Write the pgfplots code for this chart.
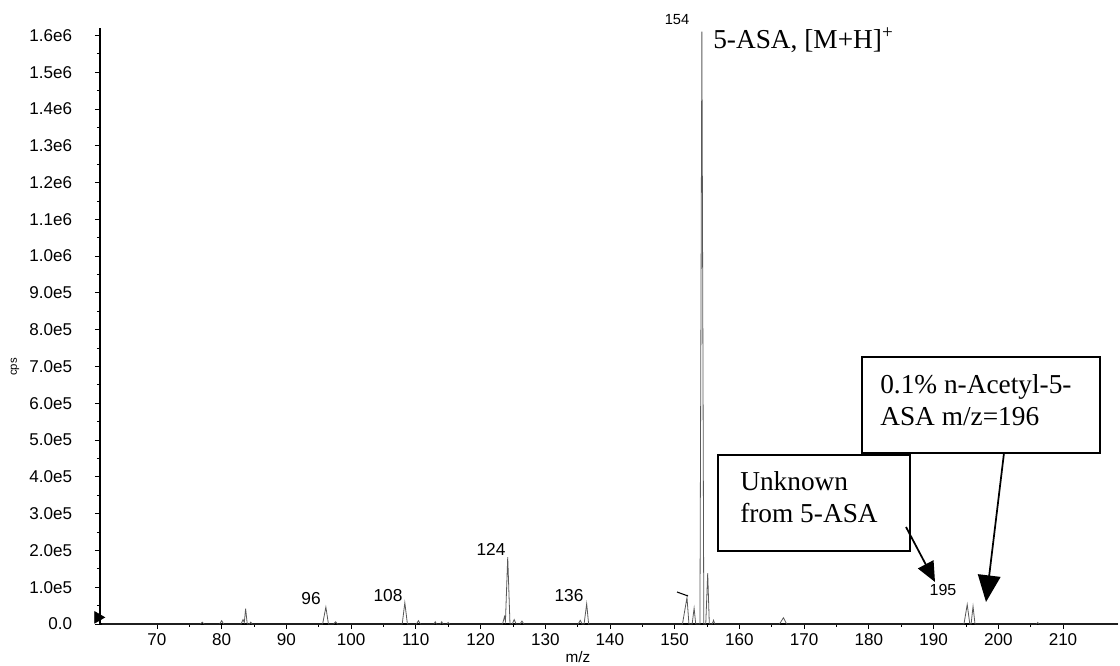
\documentclass[border=0pt]{standalone}
\usepackage{pgfplots}
\pgfplotsset{compat=1.18}
\usepackage{fontspec}
\setmainfont{Liberation Serif}
\newfontfamily\arial{Liberation Sans}
\usetikzlibrary{arrows.meta}

\begin{document}
\begin{tikzpicture}
\useasboundingbox (0,0) rectangle (840pt,499.5pt);
\begin{axis}[
  at={(75pt,31.5pt)}, anchor=south west,
  scale only axis, width=763.5pt, height=447pt,
  xmin=61.2, xmax=218.5, ymin=0, ymax=1620000,
  axis lines=left,
  axis line style={-, line width=0.9pt, black},
  clip=false,
  xtick={70,80,90,100,110,120,130,140,150,160,170,180,190,200,210},
  minor x tick num=1,
  ytick={0,100000,200000,300000,400000,500000,600000,700000,800000,900000,1000000,1100000,1200000,1300000,1400000,1500000,1600000},
  yticklabels={0.0,1.0e5,2.0e5,3.0e5,4.0e5,5.0e5,6.0e5,7.0e5,8.0e5,9.0e5,1.0e6,1.1e6,1.2e6,1.3e6,1.4e6,1.5e6,1.6e6},
  minor y tick num=1,
  scaled y ticks=false,
  tick align=outside,
  major tick length=3.75pt, minor tick length=2.25pt,
  tick style={black, line width=0.6pt},
  ticklabel style={font=\arial\fontsize{12.8}{13}\selectfont},
  /pgf/number format/assume math mode=true,
  yticklabel style={anchor=east, inner sep=0pt, xshift=-17pt},
  xticklabel style={anchor=north, inner sep=0pt, yshift=-3pt},
  xlabel={m/z},
  xlabel style={font=\arial\fontsize{11.5}{12}\selectfont, at={(axis description cs:0.4696,-0.0554)}, anchor=center},
  ylabel={cps},
  ylabel style={font=\arial\fontsize{8.5}{9}\selectfont, at={(axis description cs:-0.0835,0.431)}, anchor=center},
]
\addplot[gray!70!black, line width=0.6pt] coordinates {
(61.5,0)
(76.7,0) (77.0,5000) (77.3,0)
(79.7,0) (80.0,9000) (80.3,0)
(83.0,0) (83.3,12000) (83.5,4000) (83.7,42000) (83.95,0)
(84.3,0) (84.5,5000) (84.7,0)
(95.6,0) (96.1,46000) (96.5,0)
(97.3,0) (97.6,6000) (97.9,0)
(107.9,0) (108.3,58000) (108.7,0)
(110.1,0) (110.4,9000) (110.7,0)
(112.8,0) (113.0,6000) (113.2,0)
(113.8,0) (114.0,6000) (114.2,0)
(114.8,0) (115.0,4000) (115.2,0)
(123.4,0) (123.7,20000) (123.85,8000) (124.2,182000) (124.55,0)
(124.9,0) (125.2,12000) (125.5,0)
(126.1,0) (126.4,8000) (126.7,0)
(135.1,0) (135.4,10000) (135.7,0)
(136.0,0) (136.4,55000) (136.7,0)
(151.2,0) (151.9,72000) (152.2,0)
(152.7,0) (153.0,43000) (153.25,0)
(153.9,0) (154.2,1610000) (154.5,0)
(154.8,0) (155.1,138000) (155.35,0)
(155.8,0) (156.0,10000) (156.2,0)
(166.2,0) (166.8,17000) (167.3,0)
(194.7,0) (195.2,53000) (195.6,0) (195.8,0) (196.1,48000) (196.4,0)
(205.9,0) (206.1,4000) (206.3,0)
(218.5,0)
};
\addplot[only marks, mark=triangle*, mark size=5pt, mark options={rotate=-90, fill=black, draw=black}] coordinates {(60.9,18000)};
\end{axis}

\begin{scope}[x=0.75pt, y=-0.75pt, shift={(0,499.5pt)}]
  % peak labels
  \node[font=\arial\fontsize{11}{11}\selectfont] at (677,20) {154};
  \node[font=\arial\fontsize{13}{13}\selectfont] at (311,599) {96};
  \node[font=\arial\fontsize{13}{13}\selectfont] at (388,596) {108};
  \node[font=\arial\fontsize{13}{13}\selectfont] at (491,549) {124};
  \node[font=\arial\fontsize{13}{13}\selectfont] at (569,596) {136};
  \node[font=\arial\fontsize{12}{12}\selectfont] at (943,590) {195};
  \draw[line width=0.8pt] (677,592) -- (688,596);
  % main annotation
  \node[anchor=base west, inner sep=0pt, font=\fontsize{20.5}{22}\selectfont] at (713,49) {5-ASA, [M+H]\textsuperscript{+}};
  % box 1
  \draw[line width=1.5pt, fill=white] (862,357) rectangle (1100,453);
  \node[anchor=base west, inner sep=0pt, font=\fontsize{20.5}{22}\selectfont] at (880,394) {0.1\% n-Acetyl-5-};
  \node[anchor=base west, inner sep=0pt, font=\fontsize{20.5}{22}\selectfont] at (880,426) {ASA m/z=196};
  % box 2
  \draw[line width=1.5pt, fill=white] (718,455) rectangle (910,551);
  \node[anchor=base west, inner sep=0pt, font=\fontsize{20.5}{22}\selectfont] at (740,491) {Unknown};
  \node[anchor=base west, inner sep=0pt, font=\fontsize{20.5}{22}\selectfont] at (740,523) {from 5-ASA};
  % arrows
  \draw[line width=1.3pt, -{Triangle[length=15pt,width=13pt]}] (906,527) -- (935,582);
  \draw[line width=1.3pt, -{Triangle[length=20pt,width=17pt]}] (1004,453) -- (986,602);
\end{scope}
\end{tikzpicture}
\end{document}
